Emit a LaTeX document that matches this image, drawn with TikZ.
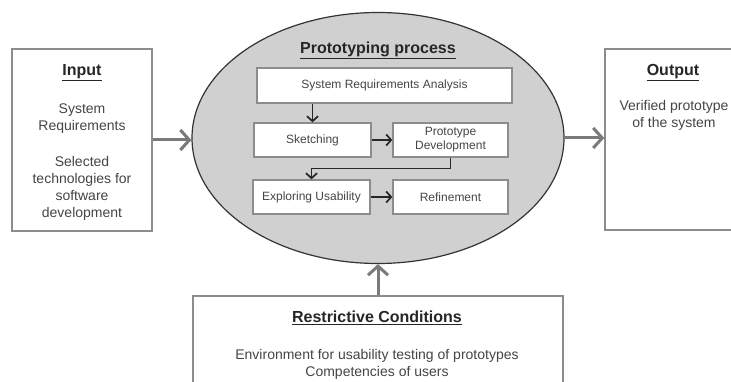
\documentclass[tikz,border=0pt]{standalone}
\usepackage{fontspec}
\setmainfont{Liberation Sans}
\usetikzlibrary{arrows.meta,shapes.geometric}
\definecolor{boxgray}{HTML}{8C8C8C}
\definecolor{arrgray}{HTML}{7A7A7A}
\definecolor{ellfill}{HTML}{D0D0D0}
\definecolor{txt}{HTML}{454545}
\begin{document}
\begin{tikzpicture}[x=1pt,y=-1pt,
 outerbox/.style={draw=boxgray,line width=1.5pt,fill=white,inner sep=0pt},
 stepbox/.style={draw=boxgray,line width=1.3pt,fill=white,font=\fontsize{12}{14}\selectfont,text=txt,align=center,inner sep=0pt},
 bigarrow/.style={draw=arrgray,line width=3pt,-{Straight Barb[length=9pt,width=20pt]}},
 smallarrow/.style={draw=black!85,line width=1.7pt,-{Straight Barb[length=5pt,width=11pt]}},
 title/.style={font=\fontsize{16}{18}\selectfont\bfseries,text=black!85},
 body/.style={font=\fontsize{14}{17}\selectfont,text=txt,align=center}]
\useasboundingbox (0,0) rectangle (731,382);
\clip (0,0) rectangle (731,382);
\fill[white] (0,0) rectangle (731,382);

% outer boxes
\node[outerbox,minimum width=140pt,minimum height=182pt] (input) at (82,140) {};
\node[outerbox,minimum width=135pt,minimum height=181pt] (output) at (672.5,139.5) {};
\node[outerbox,minimum width=370pt,minimum height=100pt] (restr) at (378,346) {};

% ellipse
\node[ellipse,draw=black!80,line width=1.2pt,fill=ellfill,minimum width=372pt,minimum height=251pt,inner sep=0pt] (proc) at (378,138) {};

% inner steps
\node[stepbox,minimum width=255pt,minimum height=35pt] (sra) at (384.5,85.5) {System Requirements Analysis};
\node[stepbox,minimum width=117pt,minimum height=34pt] (sketch) at (312.5,140) {Sketching};
\node[stepbox,minimum width=115pt,minimum height=34pt] (pd) at (450.5,140) {Prototype\\Development};
\node[stepbox,minimum width=117pt,minimum height=34pt] (eu) at (311.5,197) {Exploring Usability};
\node[stepbox,minimum width=115pt,minimum height=34pt] (ref) at (450.5,197) {Refinement};

% inner arrows
\draw[smallarrow] (sra.south -| sketch.north) -- (sketch.north);
\draw[smallarrow] (sketch.east) -- (pd.west);
\draw[smallarrow] (pd.south) -- ++(0,11) -| (eu.north);
\draw[smallarrow] (eu.east) -- (ref.west);

% big arrows
\draw[bigarrow] (input.east) -- (input.east -| proc.west);
\draw[bigarrow] (proc.east) -- (proc.east -| output.west);
\draw[bigarrow] (restr.north) -- (proc.south);

% texts
\node[title] (intitle) at (82,73) {\underline{Input}};
\node[body] (in1) at (82,119) {System\\Requirements};
\node[body] (in2) at (82,188.5) {Selected\\technologies for\\software\\development};
\node[title] (ptitle) at (378,50) {\underline{Prototyping process}};
\node[title] (outtitle) at (673,73) {\underline{Output}};
\node[body] (out1) at (674,115) {Verified prototype\\of the system};
\node[title] (rtitle) at (377,318) {\underline{Restrictive Conditions}};
\node[body] (r1) at (377,364.5) {Environment for usability testing of prototypes\\Competencies of users};
\end{tikzpicture}
\end{document}
